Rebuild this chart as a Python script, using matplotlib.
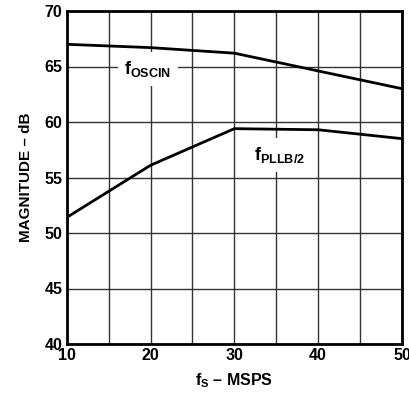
import matplotlib.pyplot as plt
import numpy as np

plt.rcParams['font.family'] = 'Liberation Sans'
plt.rcParams['font.weight'] = 'bold'
plt.rcParams['axes.labelweight'] = 'bold'
plt.rcParams['mathtext.fontset'] = 'custom'
plt.rcParams['mathtext.rm'] = 'Liberation Sans:bold'
plt.rcParams['mathtext.bf'] = 'Liberation Sans:bold'
plt.rcParams['mathtext.it'] = 'Liberation Sans:bold'
plt.rcParams['mathtext.default'] = 'rm'

# data
fs = [10, 20, 30, 40, 50]
f_oscin = [67.0, 66.7, 66.2, 64.6, 63.0]
f_pllb2 = [51.4, 56.1, 59.4, 59.3, 58.5]

fig = plt.figure(figsize=(4.09, 3.97), dpi=100)
ax = fig.add_axes([66.7 / 409, 1 - 344 / 397, 335.3 / 409, 333 / 397])

ax.plot(fs, f_oscin, color='black', lw=2.0, zorder=3)
ax.plot(fs, f_pllb2, color='black', lw=2.0, zorder=3)

ax.set_xlim(10, 50)
ax.set_ylim(40, 70)
ax.set_xticks([10, 20, 30, 40, 50])
ax.set_xticks(np.arange(15, 50, 10), minor=True)
ax.set_yticks(np.arange(40, 71, 5))
ax.grid(True, which='both', color='#333333', lw=1.0)
ax.tick_params(which='both', length=0, labelsize=11.5, pad=3)
for lab in ax.get_xticklabels() + ax.get_yticklabels():
    lab.set_fontweight('bold')
for s in ax.spines.values():
    s.set_linewidth(2.0)

ax.text(19.7, 64.8, r'f$_{\mathrm{OSCIN}}$', fontsize=13, fontweight='bold',
        ha='center', va='center',
        bbox=dict(facecolor='white', edgecolor='none', pad=5), zorder=4)
ax.text(35.4, 57.0, r'f$_{\mathrm{PLLB/2}}$', fontsize=13, fontweight='bold',
        ha='center', va='center',
        bbox=dict(facecolor='white', edgecolor='none', pad=5), zorder=4)

ax.set_xlabel(r'f$_{\mathrm{S}}$ – MSPS', fontsize=11.5, fontweight='bold', labelpad=6)
ax.set_ylabel('MAGNITUDE – dB', fontsize=11, fontweight='bold', labelpad=8)

fig.savefig('out.png', dpi=100)
